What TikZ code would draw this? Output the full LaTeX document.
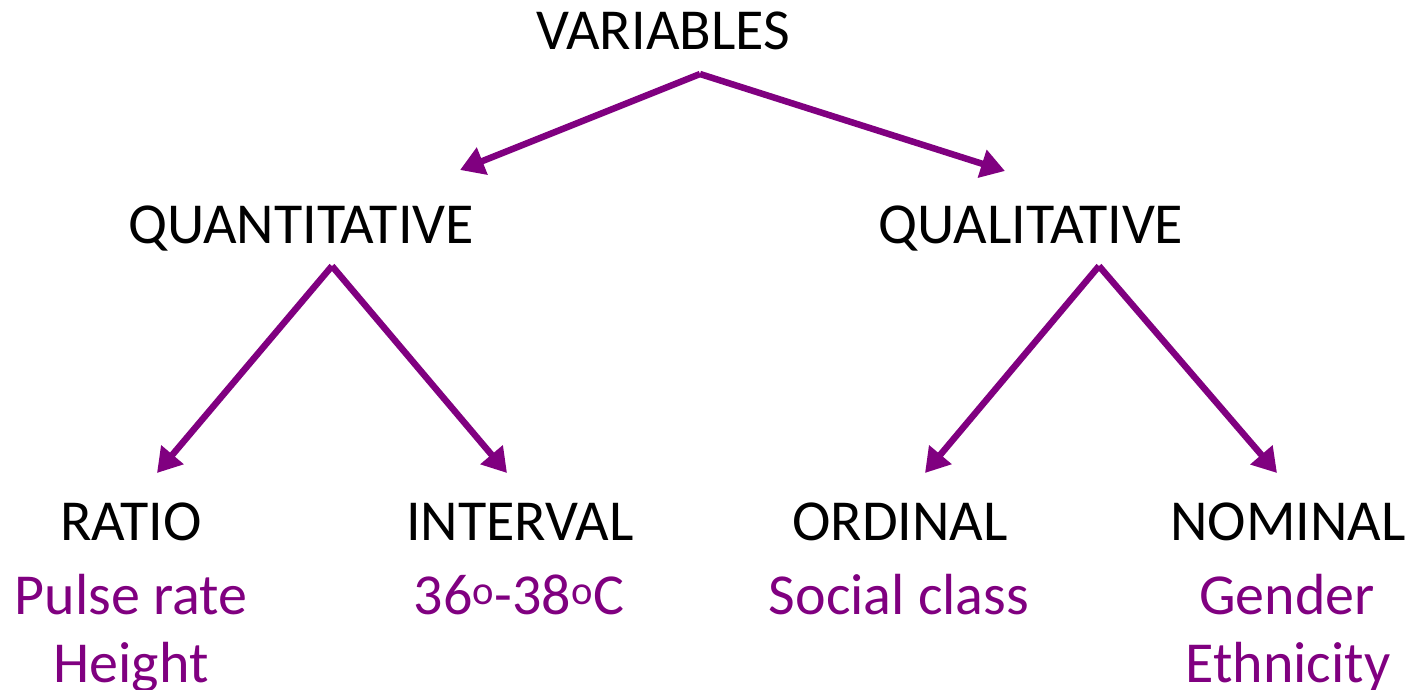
\documentclass[tikz,border=0pt]{standalone}
\usepackage{fontspec}
\setmainfont{Carlito}
\usepackage{tikz}
\usetikzlibrary{arrows.meta}
\definecolor{varpurple}{RGB}{128,0,128}

\begin{document}
\begin{tikzpicture}[x=1pt, y=-1pt]

\tikzset{heading/.style = {anchor=base, inner sep=0pt, font=\fontsize{58}{66}\selectfont}}
\tikzset{sample/.style = {heading, text=varpurple}}
\tikzset{edge/.style = {-{Triangle[length=24pt,width=28pt]}, line width=6.5pt, draw=varpurple}}
\useasboundingbox (0,0) rectangle (1414,690);
% headings
\node[heading] (var) at (663,50) {VARIABLES};
\node[heading] (quan) at (301,243) {QUANTITATIVE};
\node[heading] (qual) at (1031,243) {QUALITATIVE};
\node[heading] (ratio) at (131,540) {RATIO};
\node[heading] (inter) at (520,540) {INTERVAL};
\node[heading] (ordi) at (900,540) {ORDINAL};
\node[heading] (nomi) at (1288,540) {NOMINAL};
% examples
\node[sample] (pulse) at (131,614) {Pulse rate};
\node[sample] (height) at (131,682) {Height};
\node[sample] (temp) at (519,614) {36\textsuperscript{o}-38\textsuperscript{o}C};
\node[sample] (social) at (899,614) {Social class};
\node[sample] (gender) at (1287,614) {Gender};
\node[sample] (ethnic) at (1288,682) {Ethnicity};
% arrow ends
\coordinate (varfoot) at (700,74);
\coordinate (quanhead) at (460,170);
\coordinate (qualhead) at (1005,171);
\coordinate (quanfoot) at (332,266);
\coordinate (qualfoot) at (1099,266);
\coordinate (ratiohead) at (157,473);
\coordinate (interhead) at (507,473);
\coordinate (ordihead) at (925,473);
\coordinate (nomihead) at (1277,473);
%edges
\draw[edge] (varfoot) -- (quanhead);
\draw[edge] (varfoot) -- (qualhead);
\draw[edge] (quanfoot) -- (ratiohead);
\draw[edge] (quanfoot) -- (interhead);
\draw[edge] (qualfoot) -- (ordihead);
\draw[edge] (qualfoot) -- (nomihead);
\end{tikzpicture}
\end{document}
